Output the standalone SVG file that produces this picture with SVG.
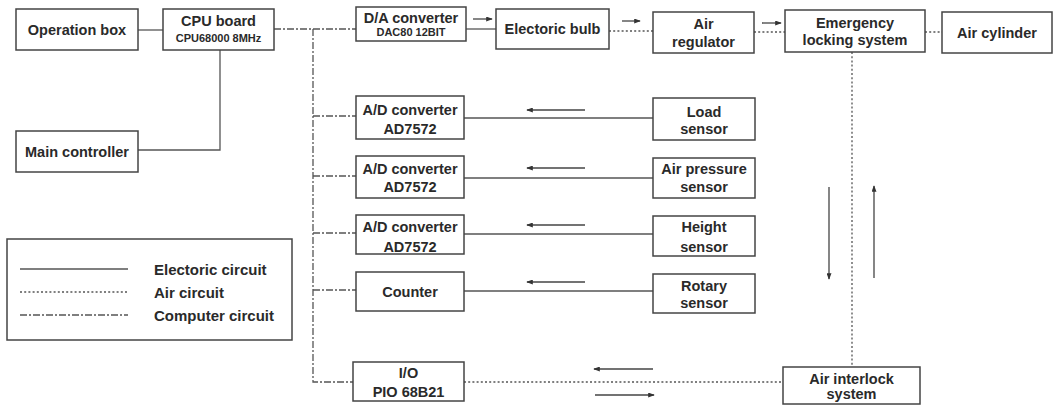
<svg xmlns="http://www.w3.org/2000/svg" width="1054" height="406" viewBox="0 0 1054 406">
<defs>
<style>
.box{fill:#fff;stroke:#444;stroke-width:1.5}
.t{font-family:"Liberation Sans",Arial,sans-serif;font-weight:bold;font-size:14.5px;fill:#2a2a2a;text-anchor:middle}
.s{font-size:11px}
.l{text-anchor:start;font-size:15px}
.el{fill:none;stroke:#555;stroke-width:1.3}
.air{fill:none;stroke:#555;stroke-width:1.3;stroke-dasharray:2 2.2}
.cpu{fill:none;stroke:#555;stroke-width:1.3;stroke-dasharray:7 2 2 2}
.ar{fill:none;stroke:#444;stroke-width:1.3;marker-end:url(#ah)}
</style>
<marker id="ah" viewBox="0 0 8 6" refX="7" refY="3" markerWidth="7" markerHeight="5" markerUnits="userSpaceOnUse" orient="auto">
<path d="M0,0 L8,3 L0,6 Z" fill="#333"/>
</marker>
</defs>
<rect width="1054" height="406" fill="#fff"/>

<g id="connectors">
<line class="el" x1="138" y1="30" x2="163" y2="30"/>
<path class="el" d="M220,50 V150 H138"/>
<line class="cpu" x1="274" y1="29" x2="356" y2="29"/>
<path class="cpu" d="M313,29 V382 H353"/>
<line class="cpu" x1="313" y1="116" x2="356" y2="116"/>
<line class="cpu" x1="313" y1="176" x2="356" y2="176"/>
<line class="cpu" x1="313" y1="233" x2="356" y2="233"/>
<line class="cpu" x1="313" y1="290" x2="356" y2="290"/>
<line class="el" x1="466" y1="29" x2="496" y2="29"/>
<line class="ar" x1="473" y1="19" x2="492" y2="19"/>
<line class="air" x1="609" y1="31" x2="653" y2="31"/>
<line class="ar" x1="622" y1="21" x2="640" y2="21"/>
<line class="air" x1="754" y1="32" x2="785" y2="32"/>
<line class="ar" x1="762" y1="23" x2="781" y2="23"/>
<line class="air" x1="925" y1="32" x2="942" y2="32"/>
<line class="air" x1="852" y1="52" x2="852" y2="367"/>
<line class="ar" x1="829" y1="187" x2="829" y2="279"/>
<line class="ar" x1="874" y1="278" x2="874" y2="186"/>
<line class="el" x1="464" y1="118" x2="653" y2="118"/>
<line class="ar" x1="585" y1="110" x2="527" y2="110"/>
<line class="el" x1="464" y1="178" x2="653" y2="178"/>
<line class="ar" x1="585" y1="168" x2="527" y2="168"/>
<line class="el" x1="464" y1="234" x2="653" y2="234"/>
<line class="ar" x1="585" y1="225" x2="527" y2="225"/>
<line class="el" x1="464" y1="291" x2="653" y2="291"/>
<line class="ar" x1="585" y1="282" x2="527" y2="282"/>
<line class="air" x1="464" y1="382" x2="783" y2="382"/>
<line class="ar" x1="653" y1="369" x2="594" y2="369"/>
<line class="ar" x1="595" y1="395" x2="654" y2="395"/>
</g>

<g id="operation-box"><rect class="box" x="16" y="9" width="122" height="41"/><text class="t" x="77" y="35">Operation box</text></g>
<g id="cpu-board"><rect class="box" x="163" y="9" width="111" height="41"/><text class="t" x="218.5" y="26">CPU board</text><text class="t s" x="218.5" y="42">CPU68000 8MHz</text></g>
<g id="main-controller"><rect class="box" x="16" y="131" width="122" height="41"/><text class="t" x="77" y="157">Main controller</text></g>
<g id="da-converter"><rect class="box" x="356" y="7" width="110" height="34"/><text class="t" x="411" y="23">D/A converter</text><text class="t s" x="411" y="36">DAC80 12BIT</text></g>
<g id="electoric-bulb"><rect class="box" x="496" y="9" width="113" height="40"/><text class="t" x="552.5" y="34">Electoric bulb</text></g>
<g id="air-regulator"><rect class="box" x="653" y="12" width="101" height="41"/><text class="t" x="703.5" y="29">Air</text><text class="t" x="703.5" y="47">regulator</text></g>
<g id="emergency-locking"><rect class="box" x="785" y="10" width="140" height="42"/><text class="t" x="855" y="28">Emergency</text><text class="t" x="855" y="45">locking system</text></g>
<g id="air-cylinder"><rect class="box" x="942" y="12" width="110" height="41"/><text class="t" x="997" y="38">Air cylinder</text></g>

<g id="ad-converter-1"><rect class="box" x="356" y="96" width="108" height="43"/><text class="t" x="410" y="115">A/D converter</text><text class="t" x="410" y="134">AD7572</text></g>
<g id="load-sensor"><rect class="box" x="653" y="98" width="102" height="42"/><text class="t" x="704" y="117">Load</text><text class="t" x="704" y="134">sensor</text></g>
<g id="ad-converter-2"><rect class="box" x="356" y="156" width="108" height="42"/><text class="t" x="410" y="174">A/D converter</text><text class="t" x="410" y="192">AD7572</text></g>
<g id="air-pressure-sensor"><rect class="box" x="653" y="158" width="102" height="40"/><text class="t" x="704" y="174">Air pressure</text><text class="t" x="704" y="192">sensor</text></g>
<g id="ad-converter-3"><rect class="box" x="356" y="215" width="108" height="39"/><text class="t" x="410" y="232">A/D converter</text><text class="t" x="410" y="252">AD7572</text></g>
<g id="height-sensor"><rect class="box" x="653" y="216" width="102" height="40"/><text class="t" x="704" y="232">Height</text><text class="t" x="704" y="252">sensor</text></g>
<g id="counter"><rect class="box" x="356" y="272" width="108" height="39"/><text class="t" x="410" y="297">Counter</text></g>
<g id="rotary-sensor"><rect class="box" x="653" y="274" width="102" height="39"/><text class="t" x="704" y="291">Rotary</text><text class="t" x="704" y="308">sensor</text></g>
<g id="io"><rect class="box" x="353" y="362" width="111" height="39"/><text class="t" x="408.5" y="378">I/O</text><text class="t" x="408.5" y="397">PIO 68B21</text></g>
<g id="air-interlock"><rect class="box" x="783" y="367" width="137" height="37"/><text class="t" x="851.5" y="384">Air interlock</text><text class="t" x="851.5" y="399">system</text></g>

<g id="legend">
<rect class="box" x="7" y="239" width="285" height="101"/>
<line class="el" x1="20" y1="269" x2="128" y2="269"/>
<line class="air" x1="20" y1="292" x2="128" y2="292"/>
<line class="cpu" x1="20" y1="315" x2="128" y2="315"/>
<text class="t l" x="154" y="275">Electoric circuit</text>
<text class="t l" x="154" y="298">Air circuit</text>
<text class="t l" x="154" y="321">Computer circuit</text>
</g>
</svg>
